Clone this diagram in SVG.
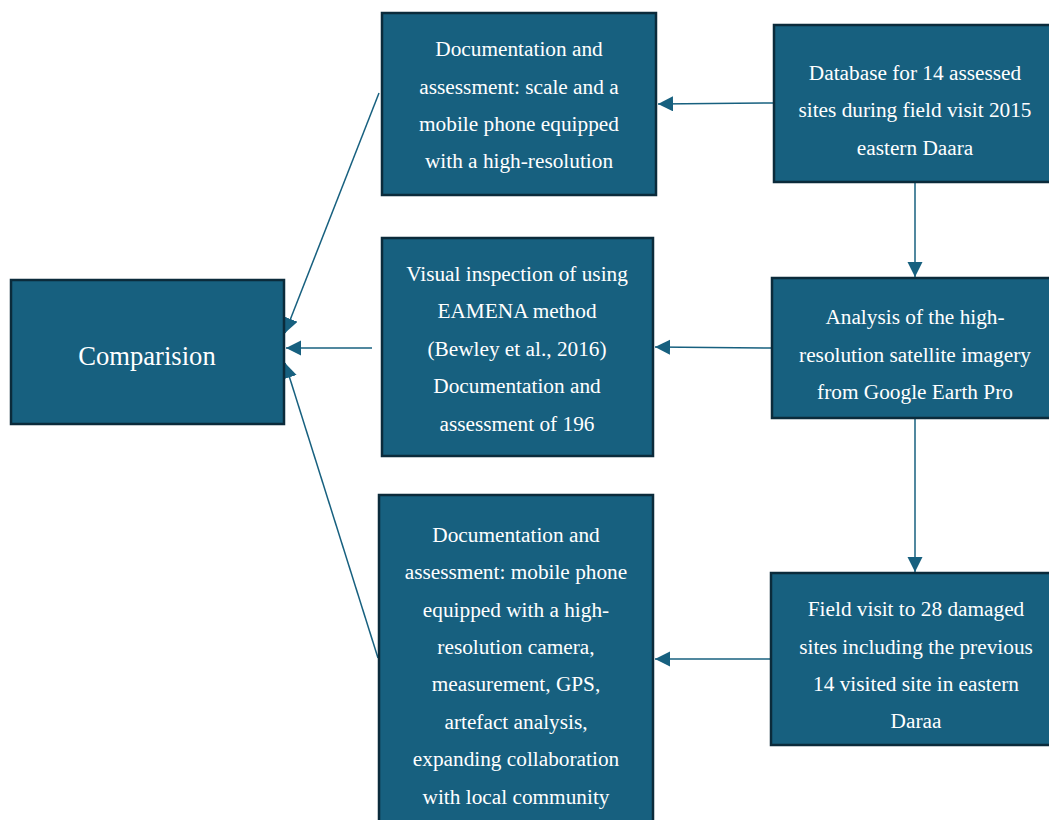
<svg xmlns="http://www.w3.org/2000/svg" width="1049" height="820" viewBox="0 0 1049 820">
<defs>
<marker id="arr" markerUnits="userSpaceOnUse" markerWidth="16" markerHeight="16" refX="15" refY="7.5" orient="auto">
<path d="M0,0 L15,7.5 L0,15 Z" fill="#17607F"/>
</marker>
<style>
.box{fill:#17607F;stroke:#0B2B3B;stroke-width:2.5}
.t{font-family:"Liberation Serif","Times New Roman",serif;font-size:21.3px;fill:#FFFFFF;text-anchor:middle}
.big{font-size:26.6px}
.c{stroke:#17607F;stroke-width:1.5;fill:none;marker-end:url(#arr)}
</style>
</defs>
<rect width="1049" height="820" fill="#FFFFFF"/>
<g id="connectors">
<line class="c" x1="774" y1="103" x2="658" y2="104"/>
<line class="c" x1="915" y1="182" x2="915" y2="277"/>
<line class="c" x1="772" y1="348" x2="655" y2="347"/>
<line class="c" x1="915" y1="418" x2="915" y2="572"/>
<line class="c" x1="771" y1="659" x2="655" y2="659"/>
<line class="c" x1="372" y1="348" x2="286" y2="348"/>
<line class="c" x1="379" y1="93" x2="285" y2="333"/>
<line class="c" x1="378" y1="658" x2="285" y2="363"/>
</g>
<g id="comparison">
<rect class="box" x="11" y="280" width="273" height="144"/>
<text class="t big" x="147" y="365">Comparision</text>
</g>
<g id="doc-scale">
<rect class="box" x="382" y="13" width="274" height="182"/>
<text class="t" x="519" y="56">Documentation and</text>
<text class="t" x="519" y="94">assessment: scale and a</text>
<text class="t" x="519" y="131">mobile phone equipped</text>
<text class="t" x="519" y="168">with a high-resolution</text>
</g>
<g id="visual-inspection">
<rect class="box" x="382" y="238" width="271" height="218"/>
<text class="t" x="517" y="281">Visual inspection of using</text>
<text class="t" x="517" y="318">EAMENA method</text>
<text class="t" x="517" y="356">(Bewley et al., 2016)</text>
<text class="t" x="517" y="393">Documentation and</text>
<text class="t" x="517" y="431">assessment of 196</text>
</g>
<g id="doc-mobile">
<rect class="box" x="379" y="495" width="274" height="340"/>
<text class="t" x="516" y="542">Documentation and</text>
<text class="t" x="516" y="579">assessment: mobile phone</text>
<text class="t" x="516" y="617">equipped with a high-</text>
<text class="t" x="516" y="654">resolution camera,</text>
<text class="t" x="516" y="691">measurement, GPS,</text>
<text class="t" x="516" y="729">artefact analysis,</text>
<text class="t" x="516" y="766">expanding collaboration</text>
<text class="t" x="516" y="804">with local community</text>
</g>
<g id="database">
<rect class="box" x="774" y="25" width="290" height="157"/>
<text class="t" x="915" y="80">Database for 14 assessed</text>
<text class="t" x="915" y="117">sites during field visit 2015</text>
<text class="t" x="915" y="155">eastern Daara</text>
</g>
<g id="analysis">
<rect class="box" x="772" y="278" width="290" height="140"/>
<text class="t" x="915" y="324">Analysis of the high-</text>
<text class="t" x="915" y="362">resolution satellite imagery</text>
<text class="t" x="915" y="399">from Google Earth Pro</text>
</g>
<g id="field-visit">
<rect class="box" x="771" y="573" width="290" height="172"/>
<text class="t" x="916" y="616">Field visit to 28 damaged</text>
<text class="t" x="916" y="654">sites including the previous</text>
<text class="t" x="916" y="691">14 visited site in eastern</text>
<text class="t" x="916" y="728">Daraa</text>
</g>
</svg>
